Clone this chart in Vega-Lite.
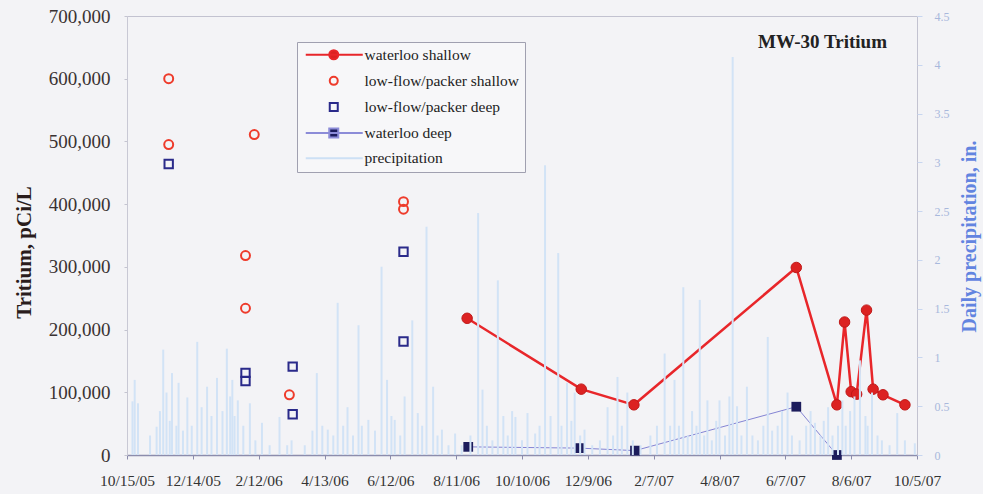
{
  "$schema": "https://vega.github.io/schema/vega-lite/v6.json",
  "width": 790,
  "height": 439,
  "autosize": {"type": "none"},
  "padding": {"left": 127, "top": 16, "right": 66, "bottom": 39},
  "background": "#f3f3f6",
  "config": {
    "view": {"stroke": "#c2c2d0", "strokeWidth": 1},
    "axis": {"grid": false},
    "font": "Liberation Serif"
  },
  "title": {
    "text": "MW-30 Tritium",
    "anchor": "end",
    "frame": "group",
    "font": "Liberation Serif",
    "fontSize": 19,
    "fontWeight": "bold",
    "color": "#222222",
    "offset": -45,
    "dx": -30
  },
  "datasets": {
    "samples": [
      {"date": "2005-11-22", "series": "low-flow/packer shallow", "tritium": 600000},
      {"date": "2005-11-22", "series": "low-flow/packer shallow", "tritium": 495000},
      {"date": "2006-01-31", "series": "low-flow/packer shallow", "tritium": 318000},
      {"date": "2006-01-31", "series": "low-flow/packer shallow", "tritium": 234000},
      {"date": "2006-02-08", "series": "low-flow/packer shallow", "tritium": 511000},
      {"date": "2006-03-12", "series": "low-flow/packer shallow", "tritium": 96000},
      {"date": "2006-06-24", "series": "low-flow/packer shallow", "tritium": 404000},
      {"date": "2006-06-24", "series": "low-flow/packer shallow", "tritium": 392000},
      {"date": "2005-11-22", "series": "low-flow/packer deep", "tritium": 464000},
      {"date": "2006-01-31", "series": "low-flow/packer deep", "tritium": 131000},
      {"date": "2006-01-31", "series": "low-flow/packer deep", "tritium": 118000},
      {"date": "2006-03-15", "series": "low-flow/packer deep", "tritium": 141000},
      {"date": "2006-03-15", "series": "low-flow/packer deep", "tritium": 65000},
      {"date": "2006-06-24", "series": "low-flow/packer deep", "tritium": 324000},
      {"date": "2006-06-24", "series": "low-flow/packer deep", "tritium": 181000},
      {"date": "2006-08-21", "series": "waterloo shallow", "tritium": 218000},
      {"date": "2006-12-03", "series": "waterloo shallow", "tritium": 105000},
      {"date": "2007-01-20", "series": "waterloo shallow", "tritium": 80000},
      {"date": "2007-06-17", "series": "waterloo shallow", "tritium": 299000},
      {"date": "2007-07-24", "series": "waterloo shallow", "tritium": 80000},
      {"date": "2007-07-31", "series": "waterloo shallow", "tritium": 212000},
      {"date": "2007-08-06", "series": "waterloo shallow", "tritium": 101000},
      {"date": "2007-08-11", "series": "waterloo shallow", "tritium": 97000},
      {"date": "2007-08-20", "series": "waterloo shallow", "tritium": 231000},
      {"date": "2007-08-26", "series": "waterloo shallow", "tritium": 105000},
      {"date": "2007-09-04", "series": "waterloo shallow", "tritium": 96000},
      {"date": "2007-09-24", "series": "waterloo shallow", "tritium": 80000},
      {"date": "2006-08-22", "series": "waterloo deep", "tritium": 13000},
      {"date": "2006-12-01", "series": "waterloo deep", "tritium": 11000},
      {"date": "2007-01-21", "series": "waterloo deep", "tritium": 7000},
      {"date": "2007-06-17", "series": "waterloo deep", "tritium": 77000},
      {"date": "2007-07-24", "series": "waterloo deep", "tritium": 0}
    ],
    "precip": [
      {"date": "2005-10-20", "precip": 0.55}, {"date": "2005-10-22", "precip": 0.77}, {"date": "2005-10-25", "precip": 0.53},
      {"date": "2005-11-05", "precip": 0.2}, {"date": "2005-11-11", "precip": 0.29}, {"date": "2005-11-14", "precip": 0.45},
      {"date": "2005-11-17", "precip": 1.08}, {"date": "2005-11-20", "precip": 0.64}, {"date": "2005-11-23", "precip": 0.35},
      {"date": "2005-11-25", "precip": 0.84}, {"date": "2005-11-29", "precip": 0.3}, {"date": "2005-12-01", "precip": 0.74},
      {"date": "2005-12-05", "precip": 0.25}, {"date": "2005-12-09", "precip": 0.59}, {"date": "2005-12-13", "precip": 0.3},
      {"date": "2005-12-18", "precip": 1.16}, {"date": "2005-12-22", "precip": 0.49}, {"date": "2005-12-27", "precip": 0.7},
      {"date": "2005-12-31", "precip": 0.4}, {"date": "2006-01-05", "precip": 0.79}, {"date": "2006-01-10", "precip": 0.45},
      {"date": "2006-01-14", "precip": 1.09}, {"date": "2006-01-17", "precip": 0.6}, {"date": "2006-01-19", "precip": 0.77},
      {"date": "2006-01-21", "precip": 0.4}, {"date": "2006-01-24", "precip": 0.56}, {"date": "2006-01-29", "precip": 0.3},
      {"date": "2006-02-04", "precip": 0.53}, {"date": "2006-02-09", "precip": 0.15}, {"date": "2006-02-15", "precip": 0.33},
      {"date": "2006-02-22", "precip": 0.1}, {"date": "2006-03-03", "precip": 0.39}, {"date": "2006-03-10", "precip": 0.1},
      {"date": "2006-03-14", "precip": 0.15}, {"date": "2006-03-26", "precip": 0.1}, {"date": "2006-04-02", "precip": 0.25},
      {"date": "2006-04-06", "precip": 0.84}, {"date": "2006-04-11", "precip": 0.3}, {"date": "2006-04-16", "precip": 0.26},
      {"date": "2006-04-21", "precip": 0.2}, {"date": "2006-04-25", "precip": 1.56}, {"date": "2006-04-30", "precip": 0.3},
      {"date": "2006-05-04", "precip": 0.49}, {"date": "2006-05-09", "precip": 0.2}, {"date": "2006-05-14", "precip": 1.33},
      {"date": "2006-05-17", "precip": 0.3}, {"date": "2006-05-23", "precip": 0.36}, {"date": "2006-05-29", "precip": 0.25},
      {"date": "2006-06-04", "precip": 1.93}, {"date": "2006-06-09", "precip": 0.77}, {"date": "2006-06-13", "precip": 0.4},
      {"date": "2006-06-16", "precip": 0.36}, {"date": "2006-06-21", "precip": 0.2}, {"date": "2006-06-25", "precip": 0.6},
      {"date": "2006-07-02", "precip": 1.38}, {"date": "2006-07-07", "precip": 0.43}, {"date": "2006-07-11", "precip": 0.3},
      {"date": "2006-07-15", "precip": 2.34}, {"date": "2006-07-21", "precip": 0.7}, {"date": "2006-07-25", "precip": 0.2},
      {"date": "2006-07-29", "precip": 0.26}, {"date": "2006-08-04", "precip": 0.1}, {"date": "2006-08-10", "precip": 0.22},
      {"date": "2006-08-16", "precip": 0.1}, {"date": "2006-08-24", "precip": 0.2}, {"date": "2006-08-31", "precip": 2.48},
      {"date": "2006-09-04", "precip": 0.67}, {"date": "2006-09-08", "precip": 0.3}, {"date": "2006-09-13", "precip": 0.15},
      {"date": "2006-09-18", "precip": 1.79}, {"date": "2006-09-23", "precip": 0.4}, {"date": "2006-09-27", "precip": 0.2},
      {"date": "2006-10-01", "precip": 0.45}, {"date": "2006-10-04", "precip": 0.39}, {"date": "2006-10-10", "precip": 0.15},
      {"date": "2006-10-15", "precip": 0.43}, {"date": "2006-10-22", "precip": 0.22}, {"date": "2006-10-26", "precip": 0.3},
      {"date": "2006-10-31", "precip": 2.97}, {"date": "2006-11-05", "precip": 0.4}, {"date": "2006-11-12", "precip": 2.07},
      {"date": "2006-11-15", "precip": 0.3}, {"date": "2006-11-20", "precip": 0.74}, {"date": "2006-11-24", "precip": 0.35},
      {"date": "2006-11-27", "precip": 0.64}, {"date": "2006-12-02", "precip": 0.2}, {"date": "2006-12-06", "precip": 0.26},
      {"date": "2006-12-13", "precip": 0.1}, {"date": "2006-12-20", "precip": 0.15}, {"date": "2006-12-27", "precip": 0.49},
      {"date": "2007-01-01", "precip": 0.2}, {"date": "2007-01-05", "precip": 0.8}, {"date": "2007-01-09", "precip": 0.3},
      {"date": "2007-01-14", "precip": 0.64}, {"date": "2007-01-19", "precip": 0.15}, {"date": "2007-01-26", "precip": 0.1},
      {"date": "2007-02-04", "precip": 0.2}, {"date": "2007-02-10", "precip": 0.3}, {"date": "2007-02-17", "precip": 1.04},
      {"date": "2007-02-22", "precip": 0.3}, {"date": "2007-02-26", "precip": 0.77}, {"date": "2007-03-02", "precip": 0.3},
      {"date": "2007-03-06", "precip": 1.72}, {"date": "2007-03-10", "precip": 0.2}, {"date": "2007-03-14", "precip": 0.45},
      {"date": "2007-03-18", "precip": 0.3}, {"date": "2007-03-21", "precip": 1.59}, {"date": "2007-03-25", "precip": 0.2},
      {"date": "2007-03-28", "precip": 0.56}, {"date": "2007-04-01", "precip": 0.15}, {"date": "2007-04-05", "precip": 0.35},
      {"date": "2007-04-08", "precip": 0.56}, {"date": "2007-04-13", "precip": 0.2}, {"date": "2007-04-17", "precip": 0.6},
      {"date": "2007-04-20", "precip": 4.08}, {"date": "2007-04-24", "precip": 0.5}, {"date": "2007-04-28", "precip": 0.2},
      {"date": "2007-05-03", "precip": 0.7}, {"date": "2007-05-08", "precip": 0.2}, {"date": "2007-05-13", "precip": 0.15},
      {"date": "2007-05-18", "precip": 0.3}, {"date": "2007-05-22", "precip": 1.21}, {"date": "2007-05-26", "precip": 0.25},
      {"date": "2007-05-31", "precip": 0.3}, {"date": "2007-06-04", "precip": 0.45}, {"date": "2007-06-09", "precip": 0.64},
      {"date": "2007-06-13", "precip": 0.2}, {"date": "2007-06-20", "precip": 0.15}, {"date": "2007-06-26", "precip": 0.3},
      {"date": "2007-06-30", "precip": 0.45}, {"date": "2007-07-04", "precip": 0.33}, {"date": "2007-07-09", "precip": 0.2},
      {"date": "2007-07-12", "precip": 0.35}, {"date": "2007-07-16", "precip": 0.49}, {"date": "2007-07-20", "precip": 0.2},
      {"date": "2007-07-25", "precip": 0.3}, {"date": "2007-07-29", "precip": 0.56}, {"date": "2007-08-01", "precip": 0.3},
      {"date": "2007-08-05", "precip": 0.45}, {"date": "2007-08-09", "precip": 0.6}, {"date": "2007-08-14", "precip": 0.97},
      {"date": "2007-08-19", "precip": 0.4}, {"date": "2007-08-21", "precip": 0.3}, {"date": "2007-08-25", "precip": 0.64},
      {"date": "2007-08-30", "precip": 0.2}, {"date": "2007-09-03", "precip": 0.15}, {"date": "2007-09-10", "precip": 0.1},
      {"date": "2007-09-17", "precip": 0.43}, {"date": "2007-09-24", "precip": 0.15}, {"date": "2007-10-03", "precip": 0.12}
    ]
  },
  "encoding": {
    "x": {
      "field": "date",
      "type": "temporal",
      "scale": {
        "type": "utc",
        "domain": [
          {"year": 2005, "month": 10, "date": 15, "utc": true},
          {"year": 2007, "month": 10, "date": 5, "utc": true}
        ]
      },
      "axis": {
        "title": null,
        "format": "%-m/%-d/%y",
        "values": [
          {"year": 2005, "month": 10, "date": 15, "utc": true},
          {"year": 2005, "month": 12, "date": 14, "utc": true},
          {"year": 2006, "month": 2, "date": 12, "utc": true},
          {"year": 2006, "month": 4, "date": 13, "utc": true},
          {"year": 2006, "month": 6, "date": 12, "utc": true},
          {"year": 2006, "month": 8, "date": 11, "utc": true},
          {"year": 2006, "month": 10, "date": 10, "utc": true},
          {"year": 2006, "month": 12, "date": 9, "utc": true},
          {"year": 2007, "month": 2, "date": 7, "utc": true},
          {"year": 2007, "month": 4, "date": 8, "utc": true},
          {"year": 2007, "month": 6, "date": 7, "utc": true},
          {"year": 2007, "month": 8, "date": 6, "utc": true},
          {"year": 2007, "month": 10, "date": 5, "utc": true}
        ],
        "labelFont": "Liberation Serif",
        "labelFontSize": 15.5,
        "labelColor": "#333333",
        "labelPadding": 14,
        "labelFlush": false,
        "labelOverlap": false,
        "tickSize": 4,
        "tickColor": "#8c8cac",
        "domainColor": "#8c8cac",
        "domainWidth": 1.5
      }
    }
  },
  "layer": [
    {
      "encoding": {
        "y": {
          "field": "tritium",
          "type": "quantitative",
          "scale": {"domain": [0, 700000]},
          "axis": {
            "orient": "left",
            "values": [0, 100000, 200000, 300000, 400000, 500000, 600000, 700000],
            "format": ",.0f",
            "labelFont": "Liberation Serif",
            "labelFontSize": 19,
            "labelColor": "#3a3232",
            "labelPadding": 14,
            "tickSize": 3,
            "tickColor": "#c4c4d0",
            "domainColor": "#c8c8d4",
            "title": "Tritium, pCi/L",
            "titleFont": "Liberation Serif",
            "titleFontSize": 21,
            "titleFontWeight": "bold",
            "titleColor": "#2a1c1c",
            "titleAngle": 270,
            "titleAlign": "center",
            "titleBaseline": "middle",
            "titleX": -103,
            "titleY": 236
          }
        }
      },
      "layer": [
        {
          "data": {"name": "samples"},
          "transform": [{"filter": "datum.series === 'waterloo deep'"}],
          "mark": {"type": "line", "color": "#8484d4", "strokeWidth": 1},
          "encoding": {}
        },
        {
          "data": {"name": "samples"},
          "transform": [{"filter": "datum.series === 'waterloo shallow'"}],
          "mark": {"type": "line", "color": "#e8262a", "strokeWidth": 2.5},
          "encoding": {}
        },
        {
          "data": {"name": "samples"},
          "transform": [{"filter": "datum.series === 'waterloo shallow'"}],
          "mark": {"type": "point", "shape": "circle", "filled": true, "opacity": 1, "size": 110, "fill": "#dc2222", "stroke": "#c01818", "strokeWidth": 1}
        },
        {
          "data": {"name": "samples"},
          "transform": [{"filter": "datum.series === 'waterloo deep'"}],
          "mark": {"type": "point", "shape": "square", "filled": true, "opacity": 1, "size": 95, "fill": "#1c1c5c"}
        },
        {
          "data": {"name": "samples"},
          "transform": [{"filter": "datum.series === 'low-flow/packer shallow'"}],
          "mark": {"type": "point", "shape": "circle", "filled": false, "opacity": 1, "size": 80, "strokeWidth": 2, "stroke": "#ee3b2b"}
        },
        {
          "data": {"name": "samples"},
          "transform": [{"filter": "datum.series === 'low-flow/packer deep'"}],
          "mark": {"type": "point", "shape": "square", "filled": false, "opacity": 1, "size": 70, "strokeWidth": 2, "stroke": "#2a2a8a"}
        },
        {
          "data": {"name": "samples"},
          "mark": {"type": "point", "opacity": 0, "size": 100},
          "encoding": {
            "shape": {
              "field": "series",
              "type": "nominal",
              "scale": {
                "domain": ["waterloo shallow", "low-flow/packer shallow", "low-flow/packer deep", "waterloo deep", "precipitation"],
                "range": [
                  "M-0.8,0H10.6M5.7,0A0.9,0.9,0,1,1,3.9,0A0.9,0.9,0,1,1,5.7,0Z",
                  "M5.6,0A0.8,0.8,0,1,1,4,0A0.8,0.8,0,1,1,5.6,0Z",
                  "M4,-0.8H5.6V0.8H4Z",
                  "M-0.8,0H10.6M3.9,-0.9H5.7V0.9H3.9Z",
                  "M-0.8,0H10.6"
                ]
              },
              "legend": {
                "title": null,
                "orient": "none",
                "legendX": 170,
                "legendY": 26,
                "padding": 5,
                "rowPadding": 8.1,
                "labelFont": "Liberation Serif",
                "labelFontSize": 15.5,
                "labelColor": "#222222",
                "labelOffset": 47,
                "labelLimit": 300,
                "symbolSize": 100,
                "symbolOpacity": 1,
                "symbolStrokeWidth": 2,
                "strokeColor": "#a0a0b0",
                "fillColor": "#f7f7f9"
              }
            },
            "fill": {
              "field": "series",
              "type": "nominal",
              "scale": {
                "domain": ["waterloo shallow", "low-flow/packer shallow", "low-flow/packer deep", "waterloo deep", "precipitation"],
                "range": ["#dc2222", "transparent", "transparent", "#1c1c5c", "transparent"]
              }
            },
            "stroke": {
              "field": "series",
              "type": "nominal",
              "scale": {
                "domain": ["waterloo shallow", "low-flow/packer shallow", "low-flow/packer deep", "waterloo deep", "precipitation"],
                "range": ["#e8262a", "#ee3b2b", "#2a2a8a", "#8c8cd8", "#cde0f5"]
              }
            }
          }
        }
      ]
    },
    {
      "data": {"name": "precip"},
      "mark": {"type": "rule", "color": "#d2e3f6", "strokeWidth": 2},
      "encoding": {
        "y": {
          "field": "precip",
          "type": "quantitative",
          "scale": {"domain": [0, 4.5]},
          "axis": {
            "orient": "right",
            "values": [0, 0.5, 1, 1.5, 2, 2.5, 3, 3.5, 4, 4.5],
            "format": "~g",
            "labelFont": "Liberation Serif",
            "labelFontSize": 12,
            "labelColor": "#a8b8dc",
            "labelPadding": 12,
            "tickSize": 5,
            "tickColor": "#c8d6f0",
            "domain": false,
            "title": "Daily precipitation, in.",
            "titleFont": "Liberation Serif",
            "titleFontSize": 20,
            "titleFontWeight": "bold",
            "titleColor": "#6284e0",
            "titleAngle": 270,
            "titleAlign": "center",
            "titleBaseline": "middle",
            "titleX": 52,
            "titleY": 220
          }
        },
        "y2": {"datum": 0}
      }
    }
  ],
  "resolve": {"scale": {"y": "independent"}}
}
